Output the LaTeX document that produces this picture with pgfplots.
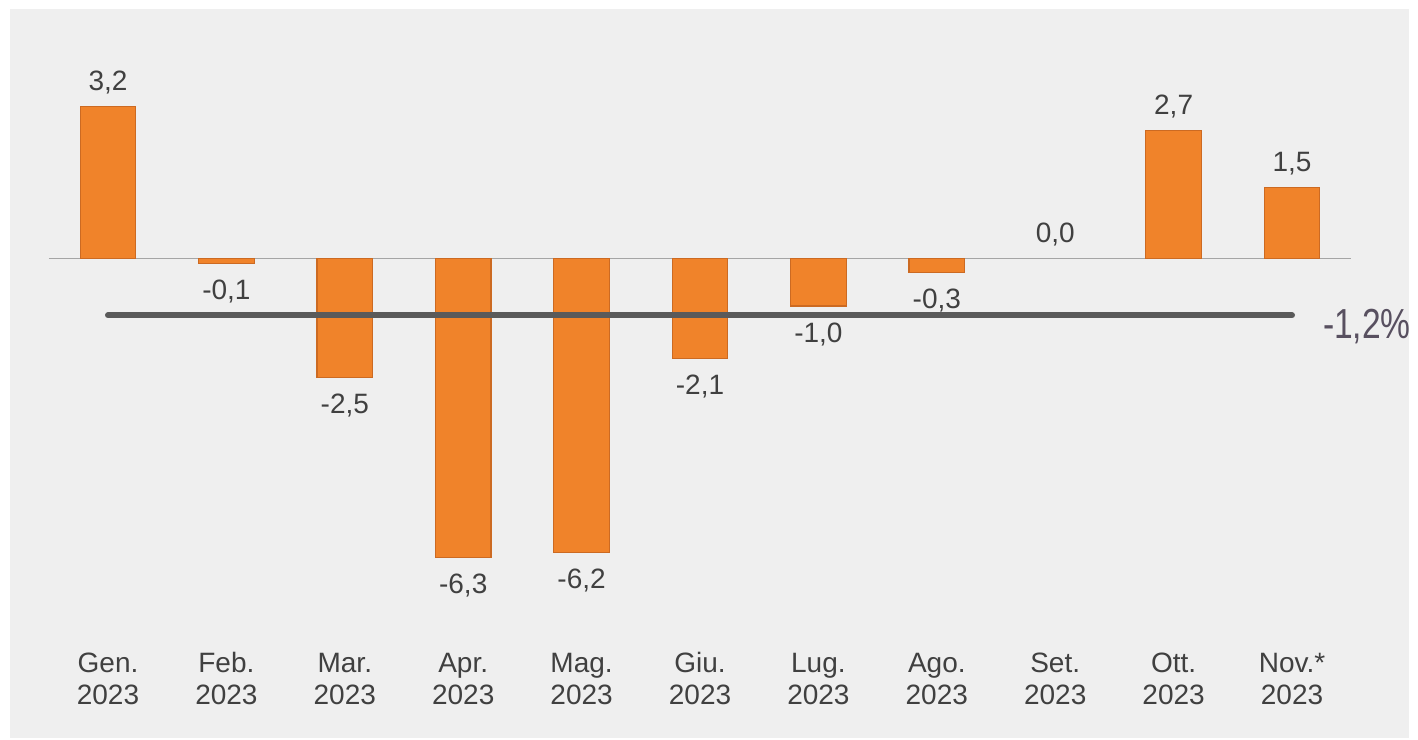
\documentclass[border=0pt]{standalone}
\usepackage{pgfplots}
\pgfplotsset{compat=1.18}
\usepackage{fontspec}
\setmainfont{Liberation Sans}
\definecolor{bg}{HTML}{EFEFEF}
\definecolor{barc}{HTML}{F0832A}
\definecolor{barside}{HTML}{CC6A22}
\definecolor{txt}{HTML}{404040}
\definecolor{avgline}{HTML}{5A5A5A}
\definecolor{avgtxt}{HTML}{585060}
\definecolor{zeroline}{HTML}{A5A5A5}
\begin{document}
\begin{tikzpicture}
\fill[white] (-24.4pt,-50.45pt) rectangle (684.6pt,319.05pt);
\fill[bg] (-19.4pt,-49.95pt) rectangle (680.1pt,314.55pt);
\begin{axis}[
  at={(0pt,0pt)}, anchor=south west,
  scale only axis, width=651.2pt, height=296.56pt,
  xmin=-0.5, xmax=10.5, ymin=-8, ymax=4.5,
  axis line style={draw=none},
  tick style={draw=none},
  major tick length=0pt,
  ytick=\empty,
  xtick={0,1,2,3,4,5,6,7,8,9,10},
  xticklabels={{\strut Gen.\\2023},{\strut Feb.\\2023},{\strut Mar.\\2023},{\strut Apr.\\2023},{\strut Mag.\\2023},{\strut Giu.\\2023},{\strut Lug.\\2023},{\strut Ago.\\2023},{\strut Set.\\2023},{\strut Ott.\\2023},{\strut Nov.*\\2023}},
  xticklabel style={align=center, font=\fontsize{14}{16}\selectfont, text=txt, anchor=north, inner sep=0pt, yshift=-5.6pt},
  extra y ticks={0}, extra y tick labels={},
  extra y tick style={grid=major, major grid style={draw=zeroline, line width=0.75pt}},
  clip=false,
  every node near coord/.append style={font=\fontsize{14}{16}\selectfont, text=txt, inner sep=7.8pt, text height=10pt, text depth=0pt},
  /pgf/number format/.cd, use comma, fixed, fixed zerofill, precision=1, assume math mode=true,
]
\addplot[ybar, bar width=27.8pt, bar shift=0pt, fill=barc, draw=barside, line width=0.6pt,
  nodes near coords, nodes near coords align={vertical},
] coordinates {(0,3.2) (1,-0.1) (2,-2.5) (3,-6.3) (4,-6.2) (5,-2.1) (6,-1.0) (7,-0.3) (9,2.7) (10,1.5)};
\addplot[ybar, bar width=27.8pt, bar shift=0pt, fill=none, draw=none,
  nodes near coords, nodes near coords align={vertical},
] coordinates {(8,0.0)};
\addplot[avgline, line width=3pt, line cap=round, no marks] coordinates {(0,-1.2) (10,-1.2)}
  node[pos=1, anchor=west, inner sep=0pt, xshift=14pt, yshift=-4pt, text height=15pt, text depth=0pt, text=avgtxt, font=\fontsize{21}{25}\selectfont] {\scalebox{0.8}[1]{-1,2\%}};
\end{axis}
\pgfresetboundingbox
\path[use as bounding box] (-24.4pt,-50.45pt) rectangle (684.6pt,319.05pt);
\end{tikzpicture}
\end{document}
